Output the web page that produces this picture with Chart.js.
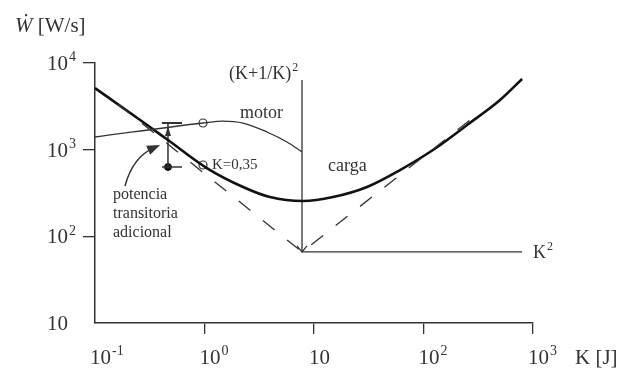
<!DOCTYPE html>
<html lang="es">
<head>
  <meta charset="UTF-8">
  <title>Potencia motor / carga</title>
  <script src="https://cdn.jsdelivr.net/npm/chart.js"></script>
  <style>
    body { margin: 0; background: #fff; }
  </style>
</head>
<body>
  <canvas id="grafico" width="633" height="368"></canvas>
  <script>
    // curva de carga (K + 1/K)^2
    const cargaK = [0.1, 0.274, 0.464, 1.05, 2.25, 3.96, 7.93, 14.9, 30.5, 61, 122, 250, 500, 795];
    const cargaW = [5140, 2085, 1292, 614, 371, 284, 256, 284, 371, 582, 991, 1926, 3741, 6535];
    // curva del motor
    const motorK = [0.1, 0.969, 1.475, 2.25, 3.72, 5.67, 7.77];
    const motorW = [1400, 2030, 2140, 2030, 1600, 1225, 940];
    // asintotas (a trazos)
    const asintotaK = [0.162, 7.77, 266];
    const asintotaW = [3365, 66, 2199];
    // linea vertical y linea K^2
    const verticalK = [7.77, 7.77];
    const verticalW = [6370, 66];
    const k2K = [7.77, 795];
    const k2W = [66, 66];
    // potencia transitoria adicional
    const barraK = [0.464, 0.464];
    const barraW = [2031, 631];
    const topeK = [0.409, 0.623];
    // puntos marcados
    const puntosK = [0.969, 0.969];
    const puntosW = [2031, 665];
    // flecha de la nota
    const flechaK = [0.188, 0.393];
    const flechaW = [381, 1132];
    // ejes
    const xTicks = [0.1, 1, 10, 100, 1000];
    const xExp = ['-1', '0', '', '2', '3'];
    const yTicks = [10, 100, 1000, 10000];
    const yExp = ['', '2', '3', '4'];

    const pts = (ks, ws) => ks.map((k, i) => ({x: k, y: ws[i]}));
    const ink = '#333';
    const serif = '"Liberation Serif", "Times New Roman", serif';

    function linea(data, extra) {
      return Object.assign({
        data: data, showLine: true, pointRadius: 0, borderColor: ink,
        borderWidth: 1.3, fill: false
      }, extra || {});
    }

    function sup(ctx, base, exp, x, y, size) {
      ctx.font = size + 'px ' + serif;
      ctx.fillText(base, x, y);
      const w = ctx.measureText(base).width;
      if (exp) {
        ctx.font = Math.round(size * 0.66) + 'px ' + serif;
        ctx.fillText(exp, x + w + 1, y - size * 0.42);
      }
    }

    function punta(ctx, x, y, ang, len, ancho) {
      ctx.beginPath();
      ctx.moveTo(x, y);
      ctx.lineTo(x - len * Math.cos(ang) + ancho * Math.sin(ang), y - len * Math.sin(ang) - ancho * Math.cos(ang));
      ctx.lineTo(x - len * Math.cos(ang) - ancho * Math.sin(ang), y - len * Math.sin(ang) + ancho * Math.cos(ang));
      ctx.closePath();
      ctx.fill();
    }

    const notas = {
      id: 'notas',
      afterDraw(chart) {
        const ctx = chart.ctx;
        const xs = chart.scales.x, ys = chart.scales.y;
        ctx.save();
        ctx.fillStyle = ink;
        ctx.strokeStyle = ink;
        ctx.textBaseline = 'alphabetic';
        ctx.textAlign = 'left';

        // etiquetas de los ejes
        xTicks.forEach((v, i) => sup(ctx, '10', xExp[i], xs.getPixelForValue(v) - 5, 364, 21));
        yTicks.forEach((v, i) => sup(ctx, '10', yExp[i], 47, ys.getPixelForValue(v) + 7, 21));

        ctx.font = 'italic 21px ' + serif;
        ctx.fillText('Ẇ', 15, 32);
        const ww = ctx.measureText('Ẇ').width;
        ctx.font = '21px ' + serif;
        ctx.fillText(' [W/s]', 15 + ww, 32);
        ctx.fillText('K [J]', 575, 364);

        // textos interiores
        sup(ctx, '(K+1/K)', '2', 229, 79, 18);
        sup(ctx, 'K', '2', 533, 258, 18);
        ctx.font = '18px ' + serif;
        ctx.fillText('motor', 240, 118);
        ctx.fillText('carga', 328, 171);
        ctx.font = '15px ' + serif;
        ctx.fillText('K=0,35', 212, 169);
        ctx.font = '16px ' + serif;
        ctx.fillText('potencia', 113, 199);
        ctx.fillText('transitoria', 113, 218);
        ctx.fillText('adicional', 113, 237);

        // punta abajo de la linea vertical
        const vx = xs.getPixelForValue(verticalK[1]);
        const vy = ys.getPixelForValue(verticalW[1]);
        ctx.lineWidth = 1.2;
        ctx.beginPath();
        ctx.moveTo(vx - 5, vy - 6);
        ctx.lineTo(vx, vy);
        ctx.lineTo(vx + 5, vy - 6);
        ctx.stroke();

        // punta arriba de la barra
        const bx = xs.getPixelForValue(barraK[0]);
        const by = ys.getPixelForValue(barraW[0]);
        punta(ctx, bx, by + 3, -Math.PI / 2, 10, 3);

        // flecha curva de la nota
        const x0 = xs.getPixelForValue(flechaK[0]), y0 = ys.getPixelForValue(flechaW[0]);
        const x2 = xs.getPixelForValue(flechaK[1]), y2 = ys.getPixelForValue(flechaW[1]);
        const dx = x2 - x0, dy = y2 - y0, d = Math.hypot(dx, dy);
        const cx = (x0 + x2) / 2 + 13 * (dy / d), cy = (y0 + y2) / 2 - 13 * (dx / d);
        ctx.lineWidth = 1.5;
        ctx.beginPath();
        ctx.moveTo(x0, y0);
        ctx.quadraticCurveTo(cx, cy, x2 - 6 * (x2 - cx) / Math.hypot(x2 - cx, y2 - cy), y2 - 6 * (y2 - cy) / Math.hypot(x2 - cx, y2 - cy));
        ctx.stroke();
        punta(ctx, x2, y2, Math.atan2(y2 - cy, x2 - cx), 13, 5);
        ctx.restore();
      }
    };

    const ctx = document.getElementById('grafico').getContext('2d');
    new Chart(ctx, {
      type: 'scatter',
      data: {
        datasets: [
          linea(pts(asintotaK, asintotaW), {borderDash: [15, 16]}),
          linea(pts(motorK, motorW), {cubicInterpolationMode: 'monotone'}),
          linea(pts(cargaK, cargaW), {borderWidth: 2.6, borderColor: '#111', cubicInterpolationMode: 'monotone'}),
          linea(pts(verticalK, verticalW)),
          linea(pts(k2K, k2W)),
          linea(pts(barraK, barraW), {borderWidth: 1.5}),
          linea(pts(topeK, [barraW[0], barraW[0]]), {borderWidth: 2}),
          linea(pts(topeK, [barraW[1], barraW[1]]), {borderWidth: 1.5}),
          {data: pts([barraK[1]], [barraW[1]]), pointRadius: 3.5, backgroundColor: '#111', borderColor: '#111'},
          {data: pts(puntosK, puntosW), pointRadius: 4, backgroundColor: '#fff', borderColor: ink, borderWidth: 1.2}
        ]
      },
      options: {
        responsive: false,
        animation: false,
        devicePixelRatio: 1,
        layout: {padding: {left: 83, right: 100, top: 63, bottom: 34}},
        plugins: {legend: {display: false}, tooltip: {enabled: false}},
        scales: {
          x: {
            type: 'logarithmic', min: 0.1, max: 1000,
            afterBuildTicks: s => { s.ticks = xTicks.slice(1).map(v => ({value: v})); },
            ticks: {display: false},
            grid: {display: true, drawOnChartArea: false, drawTicks: true, tickLength: 11, color: ink, lineWidth: 1.3},
            border: {display: true, color: ink, width: 1.5}
          },
          y: {
            type: 'logarithmic', min: 10, max: 10000,
            afterBuildTicks: s => { s.ticks = yTicks.slice(1).map(v => ({value: v})); },
            ticks: {display: false},
            grid: {display: true, drawOnChartArea: false, drawTicks: true, tickLength: 12, color: ink, lineWidth: 1.3},
            border: {display: true, color: ink, width: 1.5}
          }
        }
      },
      plugins: [notas]
    });
  </script>
</body>
</html>
